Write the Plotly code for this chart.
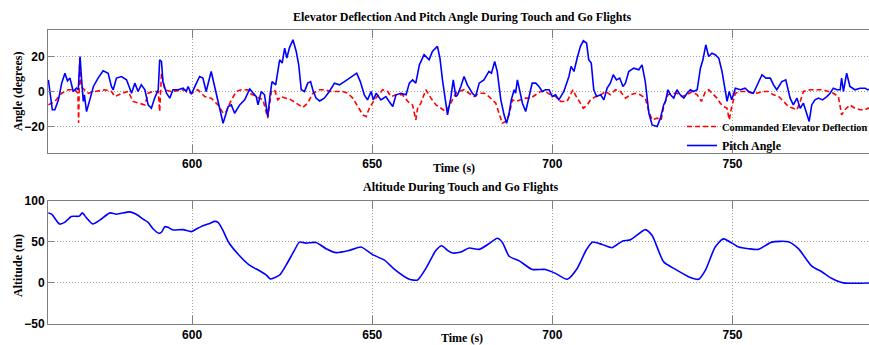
import plotly.graph_objects as go
from plotly.subplots import make_subplots

# ---------------- data ----------------
pitch_t = [560.1, 561.2, 561.9, 562.9, 563.8, 564.7, 565.4, 566.1, 567.0, 567.9, 568.4, 568.9, 569.3, 569.8,
           570.1, 570.7, 571.6, 572.6, 573.9, 575.3, 576.7, 577.6, 578.1, 579.0, 580.4, 581.8, 583.2, 584.1,
           585.0, 585.9, 586.9, 587.8, 588.7, 589.6, 590.6, 591.0, 591.5, 591.9, 592.9, 593.8, 594.7, 596.1,
           597.5, 598.4, 598.9, 599.8, 601.2, 602.1, 603.0, 603.9, 605.3, 606.3, 607.2, 608.6, 610.0, 610.9,
           611.8, 613.2, 614.6, 616.0, 617.0, 617.8, 618.3, 619.2, 620.1, 621.0, 621.7, 622.2, 623.2, 624.3,
           625.0, 625.7, 626.3, 627.0, 628.0, 628.9, 629.6, 630.3, 631.2, 632.1, 632.9, 633.5, 634.4, 635.4,
           636.7, 638.1, 639.5, 640.9, 642.3, 643.7, 644.6, 645.7, 646.7, 647.8, 648.7, 649.7, 650.3, 651.1,
           652.4, 653.8, 654.7, 655.7, 656.6, 658.0, 659.4, 660.3, 661.2, 662.1, 663.1, 664.4, 665.8, 666.7,
           668.1, 668.8, 669.5, 670.9, 671.8, 672.5, 673.2, 673.7, 674.6, 675.5, 676.4, 677.8, 678.7, 679.7,
           681.0, 682.4, 683.1, 684.0, 684.7, 685.7, 686.6, 687.3, 688.0, 688.6, 689.4, 689.8, 690.3, 691.0,
           691.7, 692.6, 693.5, 694.4, 695.4, 696.3, 697.2, 698.1, 699.1, 700.0, 700.9, 701.8, 703.2, 704.6,
           705.2, 706.0, 706.9, 707.8, 708.6, 709.5, 710.1, 710.8, 711.5, 712.3, 713.4, 714.3, 715.2, 716.1,
           716.9, 717.8, 718.7, 719.6, 720.3, 721.2, 722.6, 724.0, 724.9, 725.8, 726.8, 727.7, 729.1, 730.0,
           730.9, 731.4, 732.1, 732.8, 733.7, 734.6, 735.5, 736.5, 737.4, 738.3, 739.2, 740.2, 741.1, 741.8,
           742.6, 743.4, 744.3, 745.2, 746.2, 747.1, 747.8, 748.5, 749.1, 749.8, 750.8, 752.2, 753.5, 754.5,
           755.8, 757.2, 758.2, 759.3, 760.5, 761.4, 762.3, 763.7, 764.8, 766.0, 766.9, 767.9, 768.8, 769.7,
           770.6, 771.3, 772.0, 772.9, 773.9, 775.0, 776.2, 777.1, 778.0, 779.0, 779.9, 780.3, 780.8, 781.7,
           782.6, 784.0, 785.4, 786.8, 787.5, 789.0]
pitch_deg = [6.7, -10.5, -10.5, -4.8, 4.8, 10.5, 6.1, 7.7, 0.0, 1.9, 1.0, 20.1, 7.7, -5.7,
             -1.9, -11.5, -4.8, 2.9, 7.7, 11.9, 10.5, 2.9, 1.0, 7.7, 8.6, 6.7, -1.0, 4.8,
             0.0, 3.8, 1.0, -7.7, -9.6, -3.8, 1.0, 18.2, 17.2, 5.7, -1.0, -3.8, 1.0, 1.0,
             1.9, 0.0, 2.9, -1.5, 4.8, 8.6, 7.7, 0.0, 11.5, 2.9, -6.7, -18.2, -8.6, -7.7,
             -12.5, -7.7, -4.8, 1.5, -1.0, -2.9, -7.7, 0.0, -1.9, -14.4, -1.0, 5.7, 3.8, 18.2,
             16.3, 24.9, 19.2, 24.9, 29.7, 23.0, 15.3, 1.0, 0.0, 4.8, 5.7, 1.0, -3.8, -5.4,
             -3.8, 0.0, 4.8, 3.8, 5.7, 7.7, 8.6, 10.5, 5.7, -1.9, -4.8, 0.0, -4.8, -1.0,
             -4.8, -2.9, -5.7, -8.6, -1.9, -1.0, -1.9, 4.8, 6.7, 4.8, 15.3, 21.1, 18.2, 23.0,
             25.9, 19.2, 6.7, -13.4, -3.8, 6.7, -2.9, -1.9, 2.9, 8.6, 3.8, -1.0, -2.9, 4.8,
             6.7, 11.5, 10.5, 17.2, 11.5, -4.8, -13.4, -18.2, -12.5, -4.8, 1.0, -1.0, 6.7, 0.0,
             -6.7, -11.5, -2.9, 4.8, 4.8, 2.9, 0.0, 1.0, 1.0, -2.9, -1.9, -4.8, 0.0, 8.6,
             14.4, 11.5, 19.2, 25.9, 29.1, 27.8, 18.2, 16.3, 1.0, -2.9, -1.9, -4.8, 1.9, 4.8,
             9.6, 6.7, 7.7, 2.9, 4.8, 11.5, 13.4, 12.5, 15.3, 5.7, -12.5, -19.2, -20.1, -15.3,
             -7.7, -5.7, 1.0, -1.9, -3.8, 1.0, -1.9, -3.8, -1.0, 1.0, 0.0, 1.0, 13.4, 18.2,
             26.8, 20.1, 22.0, 21.1, 19.2, 11.5, 2.9, -5.7, 0.0, -4.8, 1.9, 1.0, 1.9, 0.0,
             -1.0, 5.7, 9.6, 7.7, 7.7, 3.8, 1.0, 5.7, 6.7, -3.8, -7.7, -3.8, -9.6, -6.7,
             -12.5, -17.2, -7.7, -4.8, -3.8, -4.8, -2.9, -1.0, 1.9, 1.0, 1.0, 7.7, 0.0, 10.5,
             2.9, 1.0, 1.9, 1.9, 1.0, 1.5]

elev_t = [560.1, 561.9, 563.8, 565.6, 567.5, 568.3, 568.5, 568.8, 569.1, 571.2, 573.0, 575.8, 577.6, 578.6,
          580.5, 582.3, 583.6, 585.5, 586.9, 587.8, 589.2, 590.6, 591.0, 591.5, 592.4, 594.2, 597.9, 599.8,
          601.6, 603.5, 605.3, 607.2, 608.6, 609.5, 610.9, 612.3, 613.6, 615.5, 616.0, 617.8, 619.7, 621.0,
          622.0, 622.9, 623.8, 624.7, 626.1, 627.5, 628.9, 630.7, 632.1, 633.5, 635.4, 636.7, 638.6, 640.0,
          641.8, 643.2, 644.6, 646.0, 647.4, 648.3, 649.2, 650.6, 652.0, 652.9, 654.3, 655.2, 656.6, 658.4,
          660.3, 661.2, 662.1, 662.6, 663.5, 664.9, 666.3, 667.7, 669.1, 670.4, 671.8, 673.2, 674.1, 675.5,
          676.9, 678.3, 679.7, 681.1, 682.4, 683.4, 684.3, 685.2, 686.1, 687.1, 688.0, 688.9, 689.8, 691.2,
          692.6, 694.0, 695.4, 696.7, 698.1, 699.5, 700.9, 702.3, 704.1, 705.1, 705.7, 706.4, 707.4, 708.6,
          709.7, 710.6, 712.0, 713.4, 714.8, 716.1, 717.5, 718.9, 720.3, 721.7, 723.1, 724.4, 725.8, 726.8,
          727.7, 729.1, 730.2, 731.0, 732.1, 733.2, 734.6, 736.0, 737.4, 738.8, 740.2, 741.4, 742.5, 743.4,
          744.8, 745.7, 746.6, 747.5, 748.5, 749.1, 749.8, 750.8, 752.2, 754.0, 755.4, 756.8, 758.2, 760.0,
          761.4, 762.8, 764.2, 765.5, 766.9, 767.9, 768.8, 769.7, 771.5, 773.4, 775.2, 776.6, 778.0, 779.4,
          780.3, 781.2, 782.6, 784.0, 785.4, 786.8, 787.5, 789.0]
elev_deg = [-7.7, -5.7, -1.0, 1.0, 1.0, -1.0, -18.0, 19.0, 2.9, -1.0, 0.0, 1.0, 0.0, -2.9,
            -1.0, 0.0, -5.7, -6.7, -7.7, -1.0, 0.0, 0.0, -11.5, 10.5, 1.0, 0.0, 1.0, -1.0,
            1.0, -2.9, -3.8, -7.7, -12.5, -11.5, -4.8, 0.0, 1.0, 1.0, -1.0, -2.9, -4.8, -15.3,
            0.0, 1.0, -4.8, -2.9, -3.8, -4.8, -6.7, -9.2, -6.7, -1.0, 1.0, 1.0, 0.0, 0.0,
            0.0, -1.0, -3.8, -8.6, -13.4, -14.4, -9.6, -4.8, -1.0, 1.0, 0.0, -2.9, -1.9, -1.9,
            -6.7, -7.7, -16.3, -9.6, -6.7, 1.0, -3.8, -7.7, -9.6, -11.5, -6.7, -1.0, 0.0, 1.0,
            -1.0, -2.9, -1.0, -1.0, -2.9, -4.8, -6.7, -12.5, -18.2, -17.2, -13.4, -4.8, -5.7, -4.8,
            -3.8, -3.8, -1.9, 0.0, 0.0, -1.9, -2.9, -5.7, -5.7, -1.9, 1.0, -1.9, -5.7, -9.6,
            -7.7, -4.8, -2.9, -1.9, 0.0, -1.9, 1.0, 0.0, -3.8, -1.9, -1.0, -1.9, -3.8, -11.5,
            -16.3, -15.3, -16.3, -7.7, -1.9, -1.0, -1.0, -2.9, -1.9, 0.0, -1.9, -5.7, 0.0, 1.0,
            -1.9, -3.8, -6.7, -8.6, -9.6, -16.3, -8.6, -1.0, 0.0, 0.0, -1.0, -1.0, 0.0, 0.0,
            -1.9, -2.9, -5.7, -8.6, -9.6, -10.5, -5.7, 0.0, 1.0, 1.0, 1.0, 0.0, -1.0, -2.9,
            -13.4, -10.5, -7.7, -9.6, -10.5, -10.5, -9.6, -10.0]

alt_t = [560.1, 561.0, 563.2, 564.6, 566.5, 568.7, 569.5, 570.6, 572.4, 574.4, 577.2, 579.0, 582.7, 584.5,
         586.4, 587.8, 589.2, 590.8, 591.5, 592.4, 593.3, 594.7, 597.5, 599.8, 601.2, 603.0, 604.9, 606.3,
         607.2, 608.6, 610.0, 612.8, 615.9, 618.7, 620.6, 621.7, 622.9, 624.3, 626.1, 628.4, 629.8, 631.6,
         634.4, 637.2, 640.0, 643.7, 646.9, 650.1, 653.4, 656.1, 660.3, 662.6, 664.9, 667.7, 669.3, 670.9,
         672.3, 674.6, 676.9, 679.7, 682.4, 684.7, 686.1, 688.0, 690.8, 694.4, 698.1, 700.9, 704.1, 706.9,
         709.4, 711.1, 713.8, 716.6, 719.4, 721.7, 725.8, 727.7, 730.9, 734.2, 737.8, 740.6, 742.5, 745.2,
         747.5, 751.7, 754.5, 757.2, 760.9, 765.5, 768.3, 772.0, 774.8, 777.5, 780.8, 789.0]
alt_m = [85.0, 83.6, 71.6, 73.6, 80.8, 81.2, 85.2, 79.6, 71.6, 76.4, 85.2, 83.6, 86.4, 83.6,
         77.6, 73.6, 65.6, 60.4, 61.6, 68.4, 67.6, 64.4, 64.8, 62.4, 65.6, 69.6, 72.4, 74.8,
         73.6, 63.6, 50.4, 34.8, 21.6, 14.8, 9.6, 4.8, 6.4, 9.6, 21.6, 39.6, 49.6, 48.4,
         49.2, 41.6, 36.8, 39.6, 43.6, 34.4, 27.6, 16.8, 4.4, 3.6, 17.6, 39.6, 45.2, 39.6,
         36.4, 37.6, 42.4, 40.8, 47.6, 54.4, 49.6, 32.4, 26.8, 16.4, 16.4, 11.6, 4.4, 17.6,
         40.0, 49.6, 46.8, 42.8, 50.8, 52.4, 64.8, 57.6, 25.6, 16.4, 7.6, 4.4, 15.6, 43.6,
         53.6, 43.6, 41.6, 40.8, 49.6, 50.0, 41.6, 20.4, 13.6, 5.6, 0.0, 0.0]

x_ticks = [600, 650, 700, 750]
angle_ticks = [-20, 0, 20]
alt_ticks = [-50, 0, 50, 100]

# ---------------- figure ----------------
W, H = 869, 345
ML, MR, MT, MB = 48, 0, 30, 21
PW, PH = W - ML - MR, H - MT - MB


def px(x):  # window pixel -> paper x
    return (x - ML) / PW


def py(y):  # window pixel -> paper y
    return (H - MB - y) / PH


fig = make_subplots(rows=2, cols=1)

fig.add_trace(go.Scatter(x=elev_t, y=elev_deg, mode="lines",
                         name="<span style='font-size:10.4px'>Commanded Elevator Deflection</span>",
                         line=dict(color="#ff0000", width=1.6, dash="5px,3px")), row=1, col=1)
fig.add_trace(go.Scatter(x=pitch_t, y=pitch_deg, mode="lines", name="Pitch Angle",
                         line=dict(color="#0000ff", width=1.6)), row=1, col=1)
fig.add_trace(go.Scatter(x=alt_t, y=alt_m, mode="lines", name="Altitude", showlegend=False,
                         line=dict(color="#0000ff", width=1.6, shape="spline", smoothing=0.6)), row=2, col=1)

tickfont = dict(family="Liberation Sans, Arial", size=12, color="#000000", weight="bold")
serif = "Liberation Serif, Times New Roman"
axcol = "#7f7f7f"
gridcol = "#a0a0a0"
common_x = dict(range=[560, 787.9], tickvals=x_ticks, showgrid=True, gridcolor=gridcol, griddash="1px,2px",
                gridwidth=1, zeroline=False, showline=True, linecolor=axcol, linewidth=1, mirror="ticks",
                ticks="inside", ticklen=8, tickcolor=axcol, tickfont=tickfont)
common_y = dict(showgrid=True, gridcolor=gridcol, griddash="1px,2px", gridwidth=1, zeroline=False,
                showline=True, linecolor=axcol, linewidth=1, ticks="inside", ticklen=6, tickcolor=axcol,
                tickfont=tickfont)

fig.update_xaxes(**common_x)
fig.update_yaxes(**common_y)
fig.update_xaxes(domain=[0, 1], row=1, col=1)
fig.update_xaxes(domain=[0, 1], row=2, col=1)
fig.update_yaxes(domain=[py(153), 1], range=[-35.3, 35.3], tickvals=angle_ticks, row=1, col=1)
fig.update_yaxes(domain=[0, py(200.7)], range=[-50, 100], tickvals=alt_ticks, row=2, col=1)

ann = []
def text(s, x, y, size=12, angle=0):
    ann.append(dict(text=s, x=px(x), y=py(y), xref="paper", yref="paper", showarrow=False,
                    xanchor="center", yanchor="middle", textangle=angle,
                    font=dict(family=serif, size=size, color="#000000", weight="bold")))

text("Elevator Deflection And Pitch Angle During Touch and Go Flights", 462, 17)
text("Altitude During Touch and Go Flights", 461, 187)
text("Time (s)", 454, 168)
text("Time (s)", 462, 338)
text("Angle (degrees)", 18, 92, angle=-90)
text("Altitude (m)", 18, 266, angle=-90)

fig.update_layout(
    width=W, height=H, margin=dict(l=ML, r=MR, t=MT, b=MB, autoexpand=False),
    paper_bgcolor="#ffffff", plot_bgcolor="#ffffff",
    annotations=ann,
    showlegend=True,
    legend=dict(x=px(682), y=py(112), xanchor="left", yanchor="top", bgcolor="rgba(0,0,0,0)",
                borderwidth=0, font=dict(family=serif, size=12, color="#000000", weight="bold"),
                tracegroupgap=0, itemwidth=30),
)

# remove the default 8px page margin so the 869x345 figure fills the window exactly
fig.write_html("out.html", config={"displayModeBar": False},
               post_script="document.body.style.margin='0';document.body.style.overflow='hidden';")
